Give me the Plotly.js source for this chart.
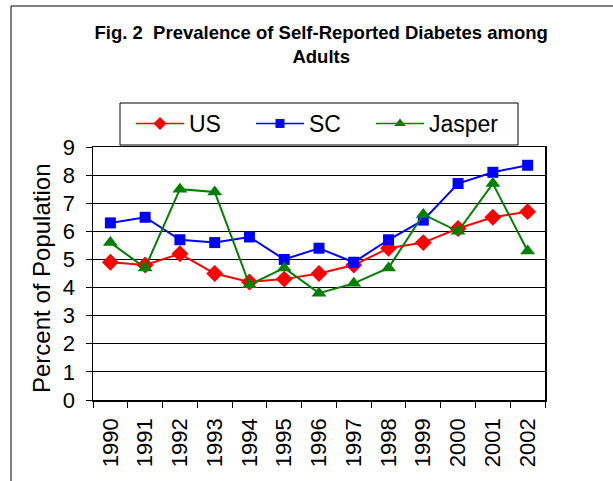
<!DOCTYPE html>
<html>
<head>
<meta charset="utf-8">
<script src="https://cdn.plot.ly/plotly-3.0.1.min.js"></script>
<style>html,body{margin:0;padding:0;background:#fff;}#chart{width:613px;height:481px;}</style>
</head>
<body>
<div id="chart"></div>
<script>
const years = ["1990","1991","1992","1993","1994","1995","1996","1997","1998","1999","2000","2001","2002"];
const usValues = [4.9, 4.8, 5.2, 4.5, 4.2, 4.3, 4.5, 4.8, 5.4, 5.6, 6.1, 6.5, 6.7];
const scValues = [6.3, 6.5, 5.7, 5.6, 5.8, 5.0, 5.4, 4.9, 5.7, 6.4, 7.7, 8.1, 8.35];
const jasperValues = [5.6, 4.7, 7.5, 7.4, 4.1, 4.7, 3.8, 4.15, 4.7, 6.6, 6.0, 7.7, 5.3];
const seriesNames = ["US", "SC", "Jasper"];
const yTicks = [0,1,2,3,4,5,6,7,8,9];

const FONT = "Liberation Sans, Arial, sans-serif";

const styles = [
  {color: "#FF0000", symbol: "diamond", size: 13, legendSize: 10},
  {color: "#0000FF", symbol: "square", size: 11, legendSize: 9},
  {color: "#008000", symbol: "triangle-up", size: 13, legendSize: 10}
];
const seriesValues = [usValues, scValues, jasperValues];
const legendIds = ["legend", "legend2", "legend3"];

const traces = [];
seriesValues.forEach((vals, i) => {
  traces.push({x: years, y: vals, name: seriesNames[i], type: "scatter", mode: "lines+markers",
    showlegend: false,
    line: {color: styles[i].color, width: 2},
    marker: {symbol: styles[i].symbol, size: styles[i].size, color: styles[i].color}});
});
// legend-only entries with smaller legend symbols (no plotted points)
seriesValues.forEach((vals, i) => {
  traces.push({x: [null], y: [null], name: seriesNames[i], type: "scatter", mode: "lines+markers",
    legend: legendIds[i], showlegend: true,
    line: {color: styles[i].color, width: 1.5},
    marker: {symbol: styles[i].symbol, size: styles[i].legendSize, color: styles[i].color}});
});

function legendAt(px) {
  return {
    orientation: "h",
    x: (px-93)/452, xanchor: "left",
    y: (400-102)/253, yanchor: "top",
    borderwidth: 0, bgcolor: "rgba(0,0,0,0)",
    font: {family: FONT, size: 23, color: "#000"},
    itemwidth: 48
  };
}

const layout = {
  width: 613, height: 481,
  margin: {l: 93, r: 68, t: 147, b: 81, pad: 0},
  paper_bgcolor: "#fff", plot_bgcolor: "#fff",
  font: {family: FONT, color: "#000"},
  showlegend: true,
  title: {
    text: "<b>Fig. 2  Prevalence of Self-Reported Diabetes among<br>Adults</b>",
    font: {family: FONT, size: 18.5, color: "#000"},
    x: 0.524, xref: "container", xanchor: "center",
    y: 1 - 39/481, yref: "container", yanchor: "top"
  },
  legend: legendAt(131),
  legend2: legendAt(251),
  legend3: legendAt(371),
  xaxis: {
    type: "category",
    categoryorder: "array", categoryarray: years,
    tickson: "boundaries",
    ticks: "outside", ticklen: 6, tickcolor: "#000", tickwidth: 1,
    tickangle: -90,
    ticklabelstandoff: 8,
    tickfont: {family: FONT, size: 22, color: "#000"},
    showline: true, linecolor: "#000", linewidth: 1.5, mirror: true,
    showgrid: false, zeroline: false,
    range: [-0.5, 12.5]
  },
  yaxis: {
    range: [0, 9],
    tickvals: yTicks,
    ticks: "outside", ticklen: 6, tickcolor: "#000",
    ticklabelstandoff: 6,
    tickfont: {family: FONT, size: 22, color: "#000"},
    showline: true, linecolor: "#000", linewidth: 1.5, mirror: true,
    showgrid: true, gridcolor: "#000", gridwidth: 1,
    zeroline: false
  },
  annotations: [
    {text: "Percent of Population", textangle: -90,
     xref: "paper", yref: "paper",
     x: (41-93)/452, y: (400-278)/253, xanchor: "center", yanchor: "middle",
     showarrow: false, font: {family: FONT, size: 24, color: "#000"}}
  ],
  shapes: [
    {type: "rect", xref: "paper", yref: "paper",
     x0: (11-93)/452, x1: 1.3, y0: -0.5, y1: (400-6)/253,
     line: {color: "#000", width: 1}, fillcolor: "rgba(0,0,0,0)", layer: "above"},
    {type: "rect", xref: "paper", yref: "paper",
     x0: (120-93)/452, x1: (518-93)/452, y0: (400-145)/253, y1: (400-103)/253,
     line: {color: "#000", width: 1}, fillcolor: "rgba(0,0,0,0)", layer: "above"}
  ]
};

Plotly.newPlot("chart", traces, layout, {displayModeBar: false, staticPlot: true});
</script>
</body>
</html>
